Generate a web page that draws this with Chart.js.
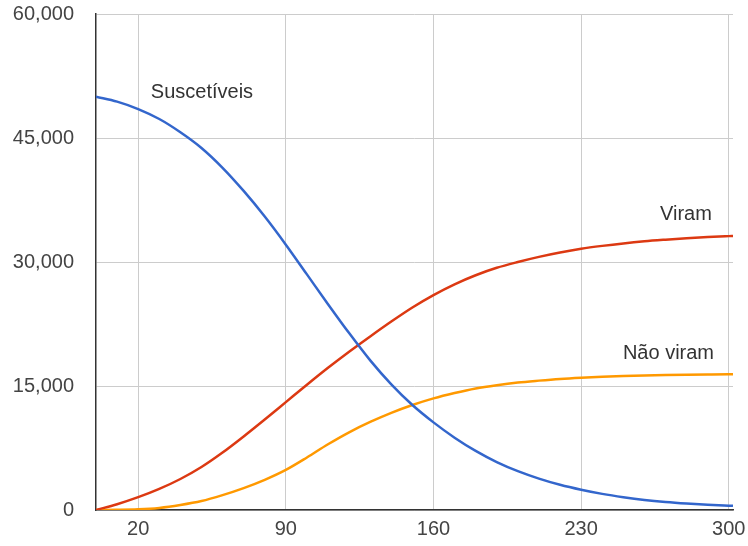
<!DOCTYPE html>
<html>
<head>
<meta charset="utf-8">
<script src="https://cdn.jsdelivr.net/npm/chart.js@4.4.1/dist/chart.umd.min.js"></script>
<style>
  html, body { margin: 0; padding: 0; background: #fff; }
  #wrap { width: 748px; height: 546px; }
</style>
</head>
<body>
<div id="wrap"><canvas id="chart" width="748" height="546"></canvas></div>
<script>
// days (x axis)
const days = [0, 10, 20, 30, 40, 50, 60, 70, 80, 90, 100, 110, 120, 130, 140, 150,
  160, 170, 180, 190, 200, 210, 220, 230, 240, 250, 260, 270, 280, 290, 300, 302];

const suscetiveis = [50000, 49400, 48500, 47300, 45700, 43800, 41400, 38600, 35500, 32100,
  28500, 24900, 21400, 18100, 15200, 12700, 10600, 8750, 7150, 5800, 4700, 3800, 3050,
  2450, 1950, 1550, 1220, 970, 780, 630, 520, 500];
const viram = [0, 700, 1550, 2550, 3750, 5200, 6950, 8900, 10950, 13050, 15150, 17200,
  19150, 21000, 22800, 24500, 26000, 27300, 28400, 29300, 30000, 30620, 31150, 31600,
  31950, 32250, 32500, 32700, 32880, 33020, 33130, 33150];
const naoViram = [0, 20, 80, 250, 600, 1080, 1800, 2650, 3650, 4850, 6350, 7950, 9400,
  10650, 11750, 12700, 13500, 14150, 14700, 15100, 15420, 15650, 15850, 16000, 16120,
  16210, 16280, 16330, 16370, 16400, 16420, 16420];

const xTicks = [20, 90, 160, 230, 300];
const yTicks = [0, 15000, 30000, 45000, 60000];

const seriesNames = ['Suscetíveis', 'Viram', 'Não viram'];
const seriesColors = ['#3366cc', '#dc3912', '#ff9900'];
// label anchors in data units: [x, y, align]
const labelSpots = [[26, 50500, 'left'], [292, 35700, 'right'], [293, 18900, 'right']];

function toPoints(arr) {
  return days.map((d, i) => ({ x: d, y: arr[i] }));
}

const lineLabels = {
  id: 'lineLabels',
  afterDatasetsDraw(chart) {
    const ctx = chart.ctx;
    const xs = chart.scales.x;
    const ys = chart.scales.y;
    ctx.save();
    ctx.font = '20px "Liberation Sans", Arial, sans-serif';
    ctx.fillStyle = '#333';
    ctx.textBaseline = 'middle';
    seriesNames.forEach((name, i) => {
      const spot = labelSpots[i];
      ctx.textAlign = spot[2];
      ctx.fillText(name, xs.getPixelForValue(spot[0]), ys.getPixelForValue(spot[1]));
    });
    ctx.restore();
  }
};

const ctx = document.getElementById('chart').getContext('2d');
new Chart(ctx, {
  type: 'line',
  data: {
    datasets: [suscetiveis, viram, naoViram].map((arr, i) => ({
      label: seriesNames[i],
      data: toPoints(arr),
      borderColor: seriesColors[i],
      borderWidth: 2.5,
      pointRadius: 0,
      fill: false,
      cubicInterpolationMode: 'monotone'
    }))
  },
  options: {
    responsive: false,
    animation: false,
    layout: { padding: { top: 14, right: 15, left: 0, bottom: 0 } },
    plugins: {
      legend: { display: false },
      tooltip: { enabled: false }
    },
    scales: {
      x: {
        type: 'linear',
        min: 0,
        max: 302,
        afterBuildTicks: (axis) => { axis.ticks = xTicks.map(v => ({ value: v })); },
        afterFit: (axis) => {
          axis.height = 36;
          axis.paddingLeft = 0;
          axis.paddingRight = 0;
        },
        grid: { color: '#cccccc', drawTicks: false },
        border: { color: '#333333', width: 1.5 },
        ticks: {
          padding: 7,
          maxRotation: 0,
          autoSkip: false,
          color: '#444',
          font: { family: '"Liberation Sans", Arial, sans-serif', size: 20 }
        }
      },
      y: {
        min: 0,
        max: 60000,
        afterBuildTicks: (axis) => { axis.ticks = yTicks.map(v => ({ value: v })); },
        afterFit: (axis) => {
          axis.width = 96;
          axis.paddingTop = 0;
          axis.paddingBottom = 0;
        },
        grid: { color: '#cccccc', drawTicks: false },
        border: { color: '#333333', width: 1.5 },
        ticks: {
          padding: 22,
          color: '#444',
          font: { family: '"Liberation Sans", Arial, sans-serif', size: 20 },
          callback: (v) => v.toLocaleString('en-US')
        }
      }
    }
  },
  plugins: [lineLabels]
});
</script>
</body>
</html>
